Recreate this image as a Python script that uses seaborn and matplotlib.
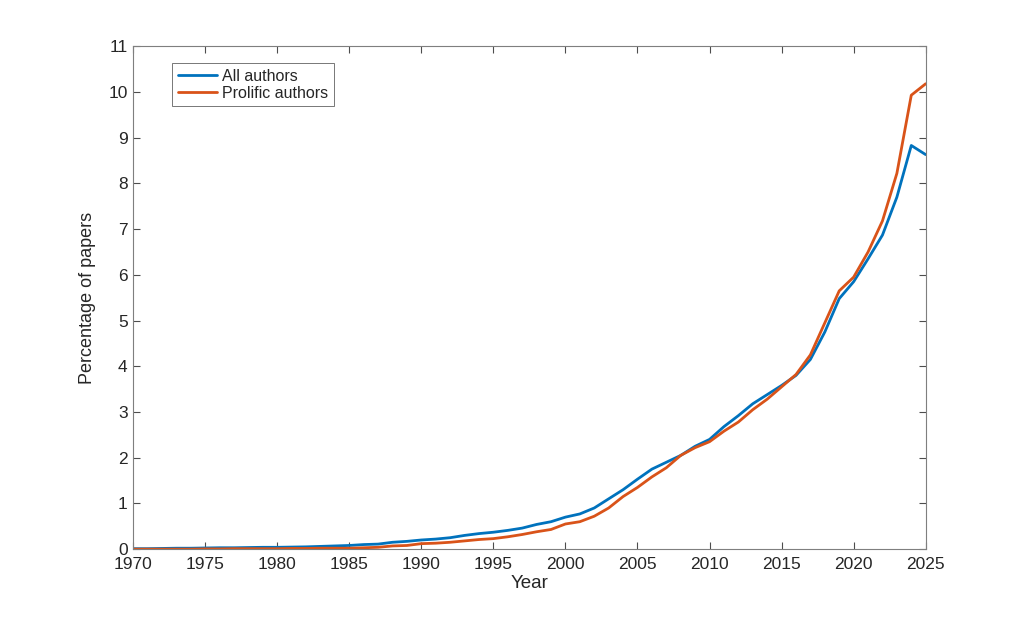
import numpy as np
import pandas as pd
import matplotlib
matplotlib.use("Agg")
import matplotlib.pyplot as plt
import seaborn as sns

years = list(range(1970, 2026))

all_authors = [0.01, 0.01, 0.015, 0.02, 0.02, 0.025, 0.03, 0.03, 0.035, 0.04,
               0.04, 0.045, 0.05, 0.06, 0.07, 0.08, 0.10, 0.11, 0.15, 0.17,
               0.20, 0.22, 0.25, 0.30, 0.34, 0.37, 0.41, 0.46, 0.54, 0.60,
               0.70, 0.77, 0.90, 1.10, 1.30, 1.53, 1.75, 1.90, 2.05, 2.25,
               2.40, 2.68, 2.92, 3.18, 3.38, 3.58, 3.80, 4.15, 4.75, 5.48,
               5.85, 6.35, 6.87, 7.70, 8.83, 8.63]

prolific_authors = [0.0, 0.0, 0.0, 0.0, 0.0, 0.005, 0.005, 0.01, 0.01, 0.01,
                    0.01, 0.015, 0.015, 0.02, 0.02, 0.02, 0.03, 0.04, 0.07, 0.08,
                    0.12, 0.13, 0.15, 0.18, 0.21, 0.23, 0.27, 0.32, 0.38, 0.43,
                    0.55, 0.60, 0.72, 0.90, 1.15, 1.35, 1.58, 1.78, 2.05, 2.22,
                    2.35, 2.58, 2.78, 3.05, 3.28, 3.55, 3.82, 4.25, 4.95, 5.65,
                    5.95, 6.50, 7.18, 8.22, 9.93, 10.18]

df = pd.DataFrame({
    "Year": years * 2,
    "Percentage": all_authors + prolific_authors,
    "Group": ["All authors"] * len(years) + ["Prolific authors"] * len(years),
})

sns.set_style("white")
plt.rcParams["font.family"] = ["Liberation Sans", "DejaVu Sans"]

fig = plt.figure(figsize=(10.24, 6.17), dpi=100)
ax = fig.add_axes([0.130, 0.110, 0.774, 0.815])

sns.lineplot(data=df, x="Year", y="Percentage", hue="Group",
             palette=["#0072BD", "#D95319"], linewidth=2, ax=ax)

ax.set_xlim(1970, 2025)
ax.set_ylim(0, 11)
ax.set_xticks(range(1970, 2026, 5))
ax.set_yticks(range(0, 12))
ax.set_xlabel("Year", fontsize=13.5, color="#262626", labelpad=2)
ax.set_ylabel("Percentage of papers", fontsize=13, color="#262626", labelpad=9)
ax.tick_params(direction="in", length=5, width=0.8, colors="#4d4d4d",
               labelcolor="#262626", labelsize=12.5, top=True, right=True,
               bottom=True, left=True)
ax.tick_params(axis="x", pad=6)
ax.tick_params(axis="y", pad=4)
for s in ax.spines.values():
    s.set_color("#7f7f7f")
    s.set_linewidth(0.8)

leg = ax.legend(loc="upper left", bbox_to_anchor=(0.049, 0.966), fontsize=11.5,
                frameon=True, fancybox=False, handlelength=2.5,
                handletextpad=0.3, borderpad=0.35, labelspacing=0.1,
                borderaxespad=0)
leg.get_frame().set_edgecolor("#3a3a3a")
leg.get_frame().set_linewidth(0.6)

fig.savefig("out.png", dpi=100)
